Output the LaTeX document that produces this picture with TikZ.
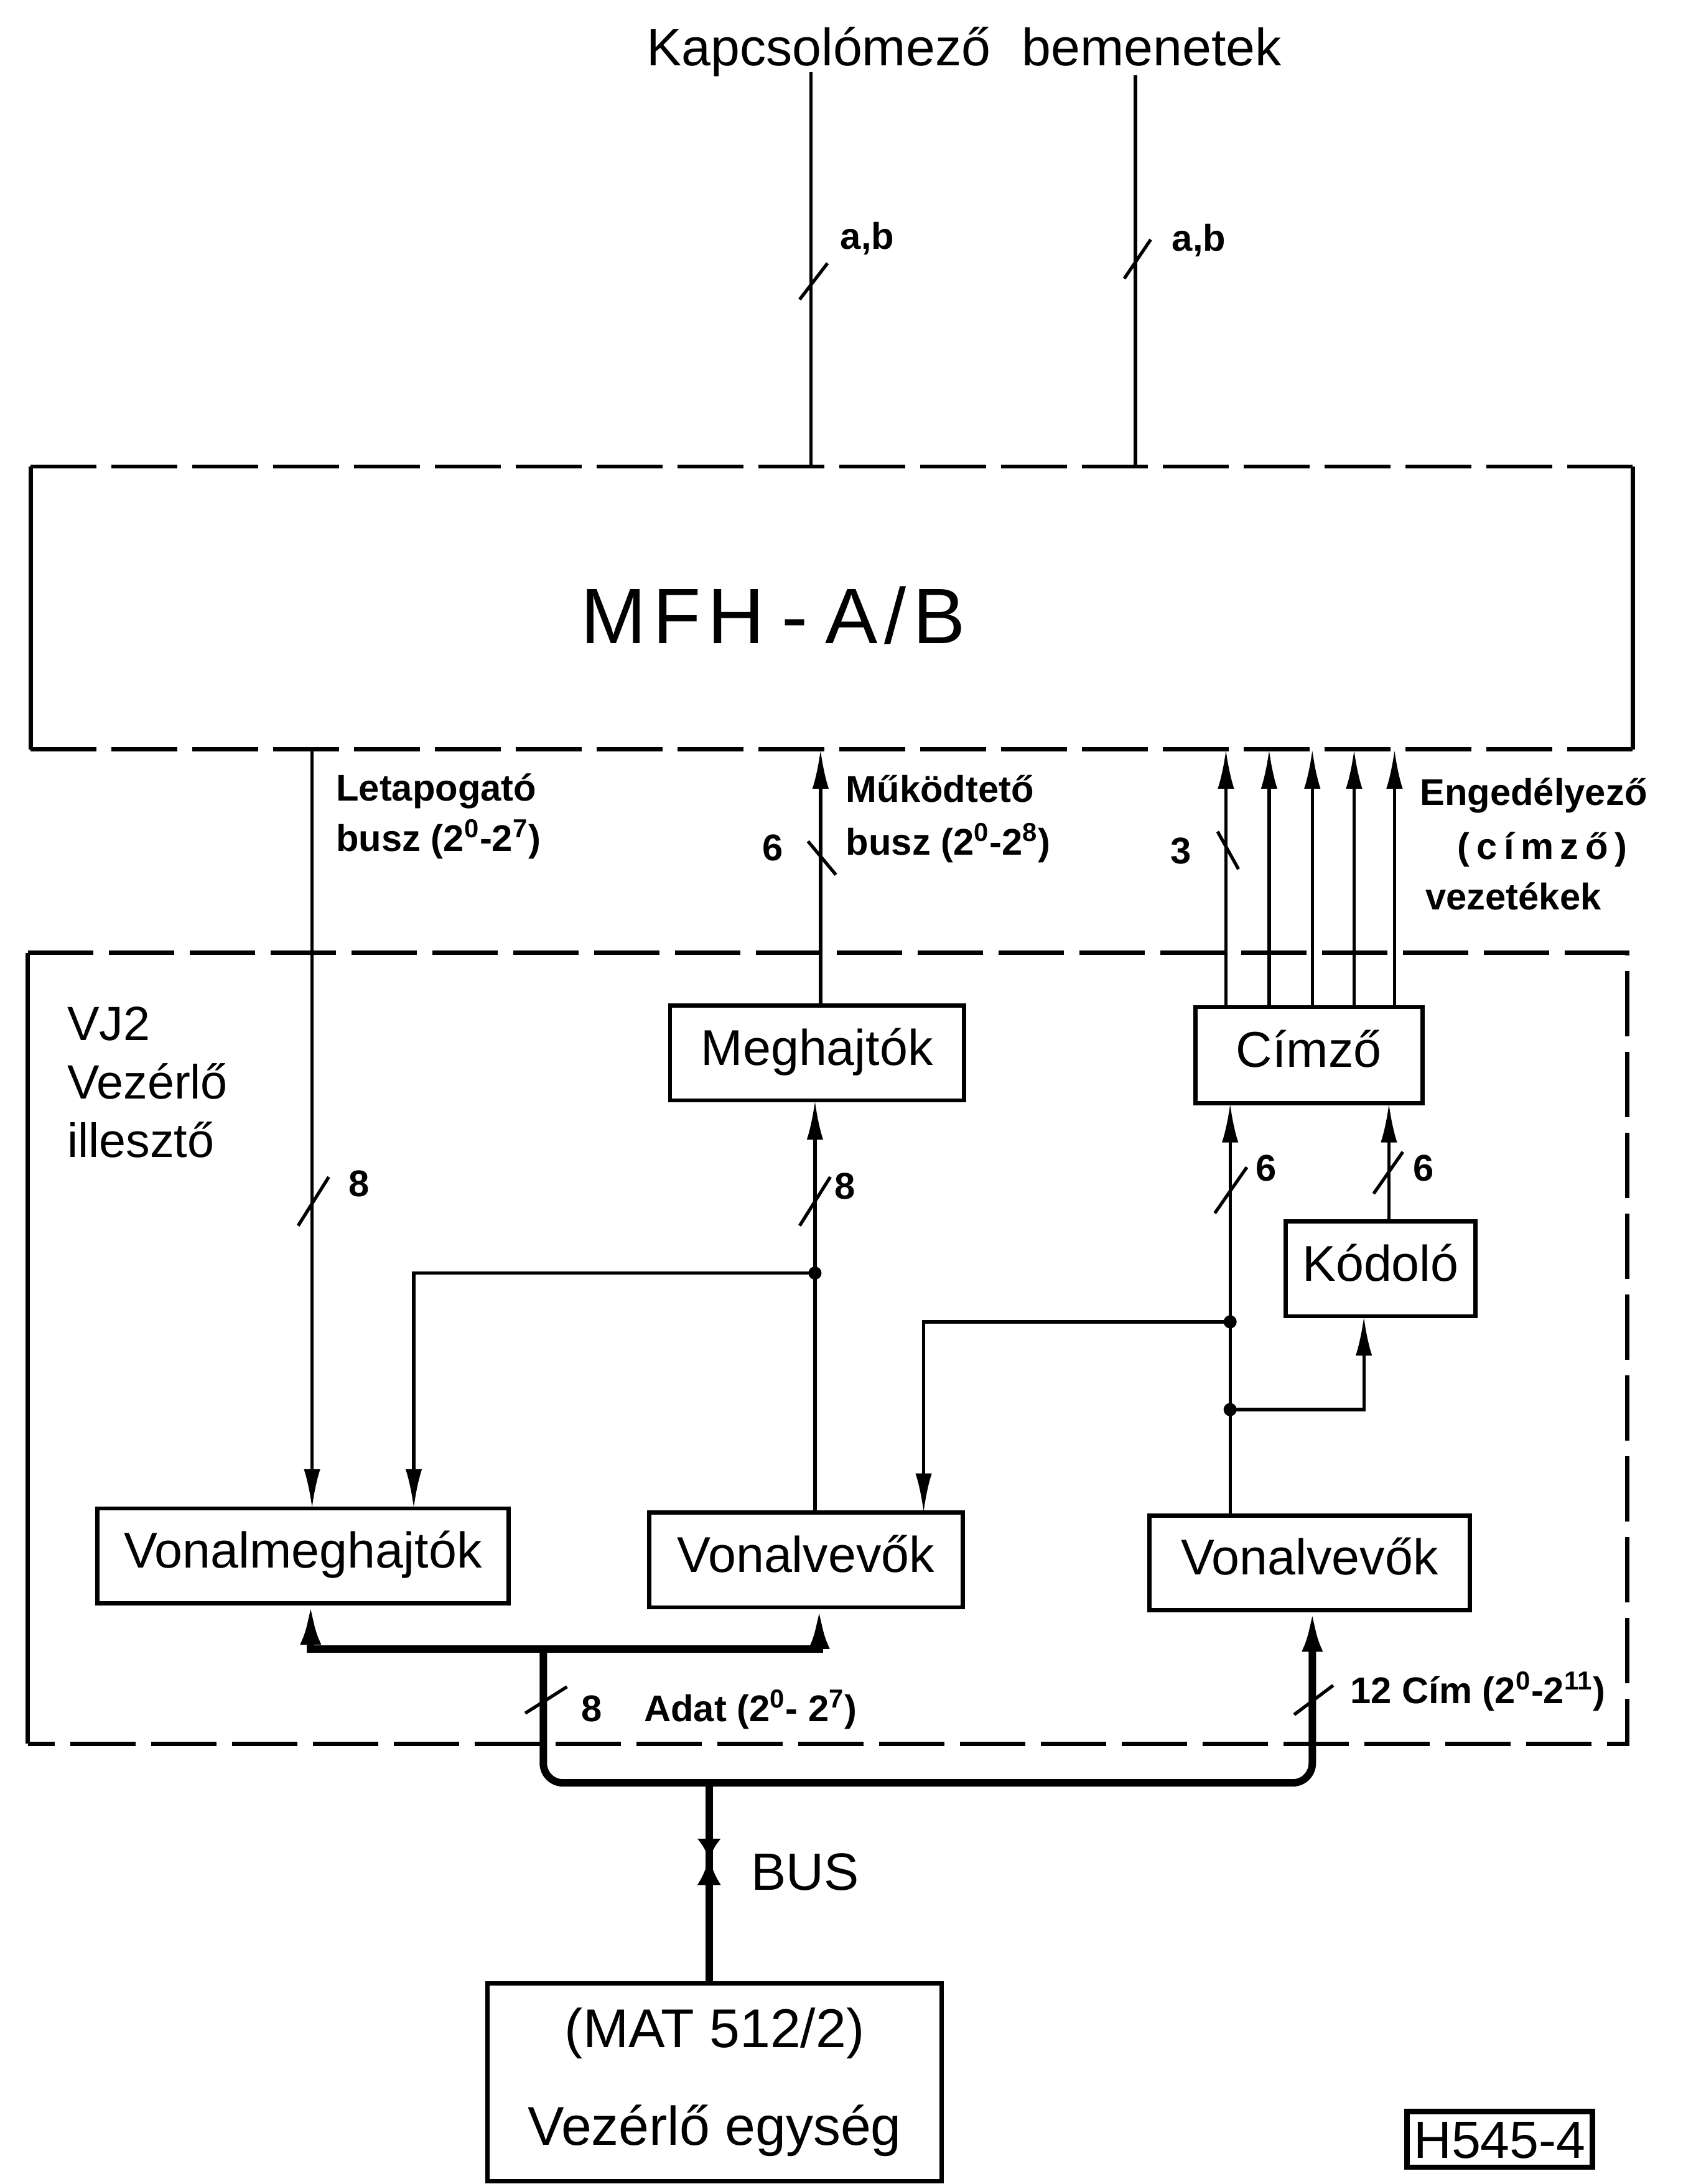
\documentclass[tikz,border=0pt]{standalone}
\usepackage{fontspec}
\setmainfont{Liberation Sans}
\usetikzlibrary{arrows.meta,decorations.markings}
\begin{document}
\begin{tikzpicture}[x=0.0224cm, y=-0.0224cm,
  thinl/.style={line width=1.5pt},
  busl/.style={line width=3.4pt},
  edgel/.style={line width=1.9pt},
  dashl/.style={line width=1.9pt, dash pattern=on 30pt off 7pt},
  sz/.style 2 args={minimum width=#1*0.0224cm, minimum height=#2*0.0224cm},
  blk/.style={draw, line width=1.9pt, inner sep=0pt, outer sep=0pt,
     text height=17pt, text depth=6pt, font=\fontsize{23}{27}\selectfont},
  arr/.style={-{Latex[length=18pt,width=7.5pt]}},
  arrb/.style={-{Latex[length=19pt,width=9.5pt]}},
  lbl/.style={anchor=base west, inner sep=0pt, font=\bfseries\fontsize{17}{20}\selectfont},
  num/.style={anchor=base west, inner sep=0pt, font=\bfseries\fontsize{17}{20}\selectfont},
  vjtxt/.style={anchor=base west, inner sep=0pt, font=\fontsize{22}{26}\selectfont},
  dot/.style={circle, fill, inner sep=0pt, minimum size=6pt},
  tick/.style={line width=1.5pt}
]
\useasboundingbox (0,0) rectangle (1217,1568);
\fill[white] (0,0) rectangle (1217,1568);

% title
\node[anchor=base, inner sep=0pt, font=\fontsize{24}{28}\selectfont] (title) at (692,47) {Kapcsolómező\hspace{0.6em}bemenetek};

% MFH box
\node[inner sep=0pt, outer sep=0pt, sz={1150}{203}] (mfh) at (597,436.5) {};
\draw[dashl] (mfh.north west) -- (mfh.north east);
\draw[dashl] (mfh.south west) -- (mfh.south east);
\draw[edgel] (mfh.north west) -- (mfh.south west);
\draw[edgel] (mfh.north east) -- (mfh.south east);
\node[anchor=base, inner sep=0pt, font=\fontsize{36}{40}\selectfont] (mfhlbl) at (555,462) {M\kern3pt F\kern3pt H\kern8pt -\kern8pt A\kern3pt/\kern3pt B};

% VJ2 box
\node[inner sep=0pt, outer sep=0pt, sz={1148}{568}] (vj2) at (594,968) {};
\draw[dashl] (vj2.north west) -- (vj2.north east) -- (vj2.south east) -- (vj2.south west);
\draw[edgel] (vj2.south west) -- (vj2.north west);
\node[vjtxt] (vjl1) at (48,747) {VJ2};
\node[vjtxt] (vjl2) at (48,789) {Vezérlő};
\node[vjtxt] (vjl3) at (48,831) {illesztő};

% blocks
\node[blk, sz={211}{68}] (megh) at (586.5,756) {Meghajtók};
\node[blk, sz={163}{69}] (cimzo) at (939.5,757.5) {Címző};
\node[blk, sz={136}{68}] (kodolo) at (991,911) {Kódoló};
\node[blk, sz={295}{68}] (vmegh) at (217.5,1117) {Vonalmeghajtók};
\node[blk, sz={225}{68}] (vvev1) at (578.5,1120) {Vonalvevők};
\node[blk, sz={230}{68}] (vvev2) at (940,1122) {Vonalvevők};
\node[draw, line width=1.9pt, inner sep=0pt, outer sep=0pt, sz={326}{142}, align=center, font=\fontsize{25}{30}\selectfont] (mat) at (513,1495) {(MAT 512/2)\\[14.6pt]Vezérlő egység};
\node[draw, line width=2.4pt, inner sep=0pt, outer sep=0pt, sz={133}{40}, text height=17pt, text depth=0pt, font=\fontsize{24}{28}\selectfont] (h545) at (1076.5,1536) {H545-4};

% inputs
\coordinate (in1) at (582,52);
\coordinate (in2) at (815,54);
\draw[thinl] (in1) -- (in1 |- mfh.north);
\draw[thinl] (in2) -- (in2 |- mfh.north);
\draw[tick] (574,215) -- (594,189);
\draw[tick] (807,200) -- (826,172);
\node[num] (ab1) at (603,179) {a,b};
\node[num] (ab2) at (841,180) {a,b};

% Letapogato
\draw[thinl, arr] (224,0 |- mfh.south) -- (224,0 |- vmegh.north);
\draw[tick] (214,880) -- (236,845);
\node[num] (n8a) at (250,859) {8};
\node[lbl] (let1) at (241,575) {Letapogató};
\node[lbl] (let2) at (241,611) {busz (2\textsuperscript{0}-2\textsuperscript{7})};

% Mukodteto
\draw[thinl, arr] (589,0 |- megh.north) -- (589,0 |- mfh.south);
\draw[tick] (580,604) -- (600,628);
\node[num] (n6a) at (547,618) {6};
\node[lbl] (muk1) at (607,576) {Működtető};
\node[lbl] (muk2) at (607,614) {busz (2\textsuperscript{0}-2\textsuperscript{8})};

% Meghajtok - Vonalvevok
\node[dot] (j1) at (585,914) {};
\draw[thinl, arr] (585,0 |- vvev1.north) -- (585,0 |- megh.south);
\draw[thinl, arr] (j1.center) -| (297,0 |- vmegh.north);
\draw[tick] (574,880) -- (596,845);
\node[num] (n8b) at (599,861) {8};

% Cimzo -> MFH
\foreach \x in {880,911,942,972,1001}
  \draw[thinl, arr] (\x,0 |- cimzo.north) -- (\x,0 |- mfh.south);
\draw[tick] (874,597) -- (889,624);
\node[num] (n3) at (840,620) {3};
\node[lbl] (eng1) at (1019,578) {Engedélyező};
\node[lbl] (eng2) at (1046,617) {(\kern3pt c\kern3pt í\kern3pt m\kern3pt z\kern3pt ő\kern3pt)};
\node[lbl] (eng3) at (1023,653) {vezetékek};

% Cimzo bottom
\node[dot] (j2) at (883,949) {};
\node[dot] (j3) at (883,1012) {};
\draw[thinl, arr] (883,0 |- vvev2.north) -- (883,0 |- cimzo.south);
\draw[tick] (872,871) -- (895,838);
\node[num] (n6b) at (901,848) {6};
\draw[thinl, arr] (j2.center) -| (663,0 |- vvev1.north);
\draw[thinl, arr] (997,0 |- kodolo.north) -- (997,0 |- cimzo.south);
\draw[tick] (986,857) -- (1007,827);
\node[num] (n6c) at (1014,848) {6};
\draw[thinl, arr] (j3.center) -| (979,0 |- kodolo.south);

% data bus
\coordinate (b1) at (390,1184);
\draw[busl, arrb] (b1) -| (223,0 |- vmegh.south);
\draw[busl, arrb] (b1) -| (588,0 |- vvev1.south);
\draw[busl, arrb, rounded corners=9pt] (b1) -- (390,1280) -- (942,1280) -- (942,0 |- vvev2.south);
\draw[tick] (377,1230) -- (407,1211);
\draw[tick] (929,1231) -- (957,1210);
\node[num] (n8c) at (417,1236) {8};
\node[lbl] (adat) at (462,1236) {Adat (2\textsuperscript{0}- 2\textsuperscript{7})};
\node[lbl] (cim) at (969,1223) {12 Cím (2\textsuperscript{0}-2\textsuperscript{11})};

% BUS
\coordinate (b3) at (509,1280);
\draw[busl, postaction={decorate}, decoration={markings,
   mark=at position 1.232cm with {\arrow{Latex[length=9.5pt,width=11pt]}},
   mark=at position 1.187cm with {\arrowreversed{Latex[length=13pt,width=11pt]}}}]
   (b3) -- (509,0 |- mat.north);
\node[anchor=base west, inner sep=0pt, font=\fontsize{24}{28}\selectfont] (buslbl) at (539,1357) {BUS};
\end{tikzpicture}
\end{document}
